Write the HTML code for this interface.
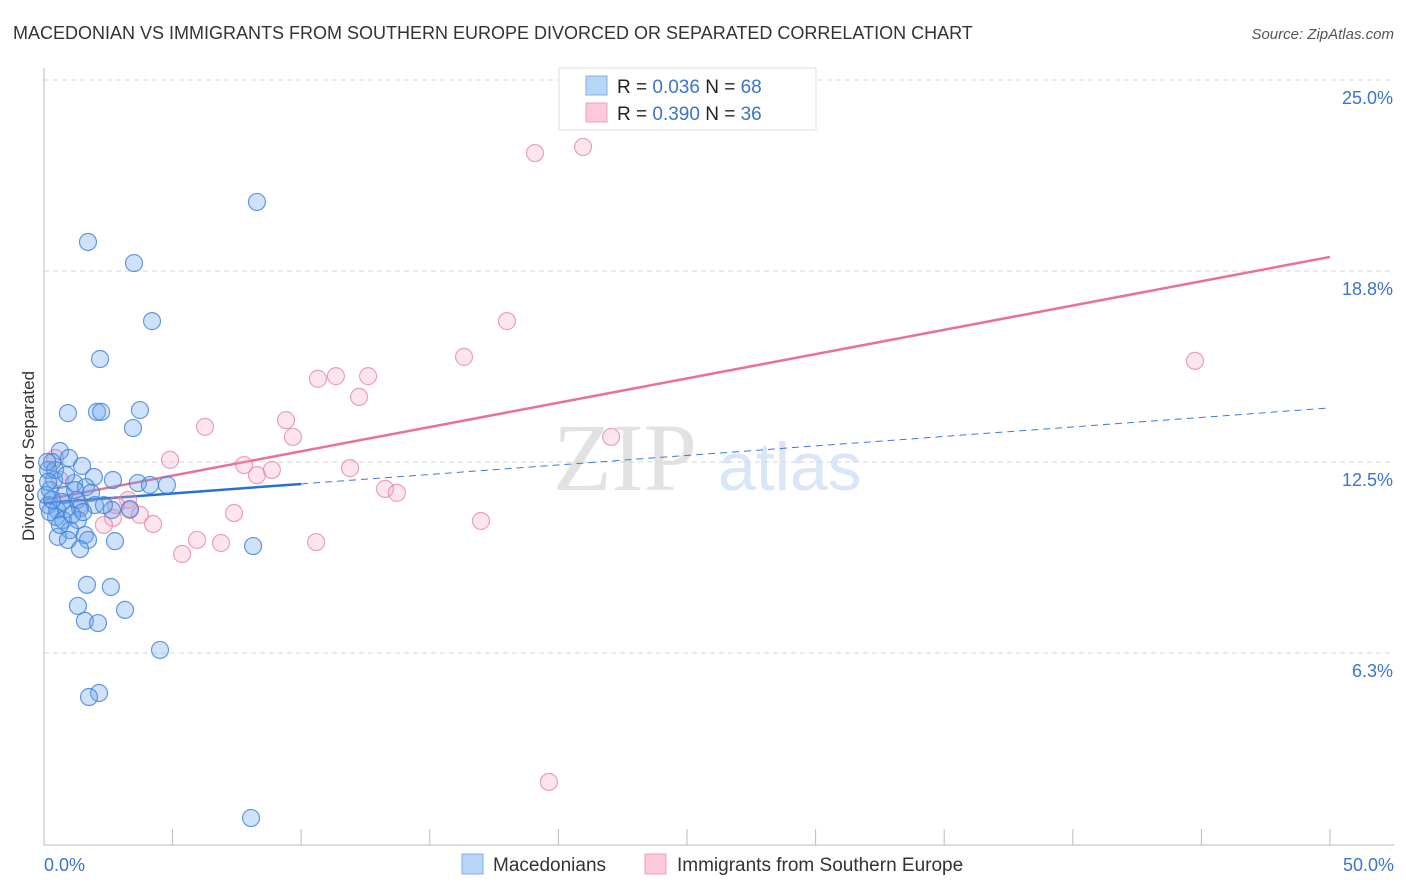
<!DOCTYPE html>
<html><head><meta charset="utf-8"><style>
body{margin:0;background:#fff;font-family:"Liberation Sans",sans-serif;}
svg{display:block}
</style></head><body>
<svg id="chart" width="1406" height="892" xmlns="http://www.w3.org/2000/svg" font-family="Liberation Sans, sans-serif">
<text x="13" y="39" font-size="18" fill="#333">MACEDONIAN VS IMMIGRANTS FROM SOUTHERN EUROPE DIVORCED OR SEPARATED CORRELATION CHART</text>
<text x="1394" y="39" font-size="15" fill="#555" text-anchor="end" font-style="italic">Source: ZipAtlas.com</text>
<g>
<text x="553" y="490" font-size="96" fill="#e2e2e2" font-family="Liberation Serif, serif">ZIP</text>
<text x="718" y="490" font-size="68" fill="#d8e6f7">atlas</text>
</g>
<g id="grid"></g>
<g id="axes"></g>
<g id="lines"></g>
<g id="pts"></g>
<text transform="translate(34,456) rotate(-90)" font-size="17" fill="#333" text-anchor="middle">Divorced or Separated</text>
<g>
<rect x="559" y="68" width="257" height="62" fill="#fff" stroke="#ddd"/>
<rect x="586" y="76" width="21" height="19" fill="#b9d5f6" stroke="#7fb0ea"/>
<rect x="586" y="103" width="21" height="19" fill="#fcc9d8" stroke="#f0a0bb"/>
<text x="617" y="93" font-size="19" fill="#222">R = <tspan fill="#3a74cc">0.036</tspan>   N = <tspan fill="#3a74cc">68</tspan></text>
<text x="617" y="120" font-size="19" fill="#222">R = <tspan fill="#3a74cc">0.390</tspan>   N = <tspan fill="#3a74cc">36</tspan></text>
</g>
<g>
<rect x="462" y="854" width="21" height="20" fill="#b9d5f6" stroke="#7fb0ea"/>
<text x="493" y="871" font-size="19" fill="#333">Macedonians</text>
<rect x="645" y="854" width="21" height="20" fill="#fcc9d8" stroke="#f0a0bb"/>
<text x="677" y="871" font-size="19" fill="#333">Immigrants from Southern Europe</text>
</g>
</svg>
<script>
const yTicks=[6.25,12.5,18.75,25];
const yTickLabels=["6.3%","12.5%","18.8%","25.0%"];
const xTickValues=[0,5,10,15,20,25,30,35,40,45,50];
const xEndLabels=["0.0%","50.0%"];
const blueX=[8.28,1.71,3.50,4.20,2.18,0.93,2.06,2.22,3.73,3.46,0.62,0.97,0.31,1.48,1.94,2.68,0.16,0.39,1.17,1.63,1.83,3.65,4.12,4.78,0.23,0.78,1.28,0.70,0.16,0.51,0.86,1.40,2.64,3.34,0.47,0.74,1.32,1.01,1.59,0.54,0.93,1.71,2.76,8.13,1.40,1.67,2.60,1.32,3.15,1.59,2.10,4.51,2.14,1.75,8.05,0.23,1.09,0.43,0.08,0.62,1.98,2.33,1.21,0.86,0.31,1.52,0.12,0.16];
const blueY=[21.01,19.70,19.01,17.11,15.87,14.10,14.14,14.14,14.20,13.61,12.86,12.63,12.50,12.37,12.01,11.91,12.24,11.91,11.81,11.68,11.49,11.81,11.75,11.75,11.58,11.42,11.26,11.19,11.09,10.93,10.96,10.99,10.93,10.96,10.70,10.60,10.60,10.27,10.11,10.05,9.95,9.95,9.91,9.75,9.65,8.48,8.41,7.79,7.66,7.30,7.23,6.35,4.94,4.81,0.85,10.86,10.77,12.24,11.42,10.44,11.09,11.09,11.58,12.07,11.26,10.86,12.50,11.85];
const pinkX=[20.96,19.09,18.00,16.33,44.75,11.35,10.65,12.60,12.25,9.41,6.26,9.68,22.05,4.90,7.78,8.28,8.86,11.90,13.26,13.72,3.27,1.40,2.80,3.34,3.73,2.68,16.99,7.39,4.24,2.33,5.95,6.88,5.37,10.58,19.63,0.43,0.62];
const pinkY=[22.81,22.61,17.11,15.94,15.81,15.31,15.22,15.31,14.63,13.87,13.65,13.32,13.32,12.57,12.40,12.07,12.24,12.30,11.62,11.49,11.26,11.09,11.09,10.93,10.77,10.67,10.57,10.83,10.47,10.44,9.95,9.85,9.49,9.88,2.03,12.63,11.91];
const blueTrend=[11.16,14.27];
const blueSolidEnd=10;
const pinkTrend=[11.26,19.21];
const NS="http://www.w3.org/2000/svg";
const X0=44,X1=1330,Y0=844,PXY=30.56;
function sx(v){return X0+(X1-X0)*v/50;}
function sy(v){return Y0-v*PXY;}
function mk(tag,attrs,parent){const e=document.createElementNS(NS,tag);for(const k in attrs)e.setAttribute(k,attrs[k]);parent.appendChild(e);return e;}
const grid=document.getElementById('grid'),axes=document.getElementById('axes'),lines=document.getElementById('lines'),pts=document.getElementById('pts');
yTicks.forEach((t,i)=>{
 const l=mk('line',{x1:X0,x2:1394,y1:sy(t),y2:sy(t),stroke:'#d6d6d6','stroke-dasharray':'5,4'},grid);
 
 
 const tx=mk('text',{x:1393,y:sy(t)+24,'font-size':18,fill:'#3a74cc','text-anchor':'end'},grid);
 tx.textContent=yTickLabels[i];
 
 
});
const ya=mk('line',{x1:X0,x2:X0,y1:68,y2:Y0+1,stroke:'#bbb'},axes);


const xa=mk('line',{x1:X0,x2:1394,y1:Y0+1,y2:Y0+1,stroke:'#bbb'},axes);


xTickValues.forEach(v=>{
 const t=mk('line',{x1:sx(v),x2:sx(v),y1:Y0-15,y2:Y0+1,stroke:'#bbb'},axes);
 
 
});
[[0,'start',44],[50,'end',1394]].forEach((a,i)=>{
 const t=mk('text',{x:a[2],y:871,'font-size':18,fill:'#3a74cc','text-anchor':a[1]},axes);
 t.textContent=xEndLabels[i];
 
 
});
function drawPts(xs,ys,fill,stroke,name){
 xs.forEach((x,i)=>{
  const c=mk('circle',{cx:sx(x),cy:sy(ys[i]),r:8.5,fill:fill,stroke:stroke,'stroke-width':1.2},pts);
  
  
 });
}
drawPts(pinkX,pinkY,'rgba(245,160,190,0.28)','rgba(230,130,165,0.75)','pink-point');
drawPts(blueX,blueY,'rgba(110,165,235,0.32)','rgba(60,130,220,0.8)','blue-point');
function ty(tr,x){return tr[0]+(tr[1]-tr[0])*x/50;}
const bd=mk('line',{x1:sx(blueSolidEnd),y1:sy(ty(blueTrend,blueSolidEnd)),x2:sx(50),y2:sy(blueTrend[1]),stroke:'#3a7ad8','stroke-width':1,'stroke-dasharray':'7,5'},lines);


const bs=mk('line',{x1:sx(0),y1:sy(blueTrend[0]),x2:sx(blueSolidEnd),y2:sy(ty(blueTrend,blueSolidEnd)),stroke:'#2a6fd6','stroke-width':2.5},lines);


const pl=mk('line',{x1:sx(0),y1:sy(pinkTrend[0]),x2:sx(50),y2:sy(pinkTrend[1]),stroke:'#e8709a','stroke-width':2.5},lines);


</script>
</body></html>
